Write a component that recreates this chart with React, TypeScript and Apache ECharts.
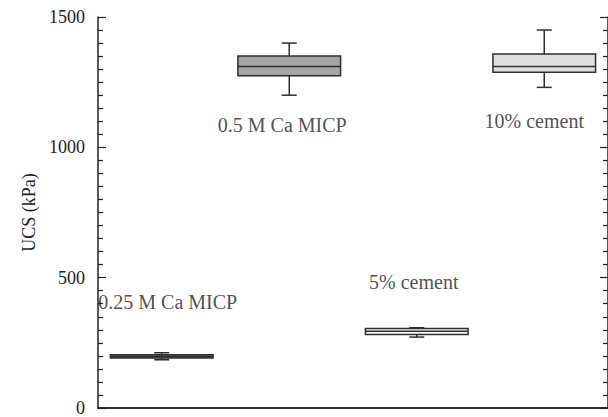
import React, { useEffect, useRef } from "react";
import * as echarts from "echarts";

const categories = ["0.25 M Ca MICP", "0.5 M Ca MICP", "5% cement", "10% cement"];
const minVals = [185, 1200, 272, 1230];
const q1Vals = [192, 1275, 282, 1288];
const medianVals = [198, 1310, 294, 1310];
const q3Vals = [204, 1350, 305, 1358];
const maxVals = [212, 1400, 308, 1450];
const boxColors = ["#707070", "#a6a6a6", "#f8f8f8", "#dedede"];
// annotation anchors (kPa) for category names
const labelAnchors = [405, 1084, 485, 1100];
const labelShift = [6, -7, -3, -10];
const yTicks = [0, 500, 1000, 1500];

const FONT = "Liberation Serif";
const AX = "#222";

export default function App() {
  const ref = useRef<HTMLDivElement>(null);
  useEffect(() => {
    document.body.style.margin = "0";
    if (!ref.current) return;
    const chart = echarts.init(ref.current, undefined, { renderer: "svg" });
    const stroke = { stroke: "#2e2e2e", lineWidth: 1.5 };
    const option: any = {
      animation: false,
      backgroundColor: "#ffffff",
      textStyle: { fontFamily: FONT },
      grid: { left: 98, top: 17, width: 512, height: 393, containLabel: false },
      xAxis: [
        {
          type: "category",
          data: categories,
          boundaryGap: true,
          axisLine: { lineStyle: { color: AX, width: 1.5 } },
          axisTick: { inside: true, length: 8, lineStyle: { color: AX, width: 1.2 } },
          axisLabel: { show: false },
          splitLine: { show: false },
        },
        {
          type: "category",
          data: categories,
          position: "top",
          axisLine: { lineStyle: { color: AX, width: 1.5 } },
          axisTick: { show: false },
          axisLabel: { show: false },
        },
      ],
      yAxis: [
        {
          type: "value",
          min: yTicks[0],
          max: yTicks[yTicks.length - 1],
          interval: 500,
          name: "UCS (kPa)",
          nameLocation: "middle",
          nameGap: 52,
          nameRotate: 90,
          nameTextStyle: { fontFamily: FONT, fontSize: 18, color: "#222" },
          axisLine: { show: true, lineStyle: { color: AX, width: 1.5 } },
          axisTick: { show: true, inside: true, length: 8, lineStyle: { color: AX, width: 1.2 } },
          minorTick: { show: true, splitNumber: 10, length: 5, lineStyle: { color: AX, width: 1.2 } },
          axisLabel: {
            fontFamily: FONT,
            fontSize: 18,
            color: "#222",
            margin: 13,
            formatter: (v: number) => String(v),
          },
          splitLine: { show: false },
        },
        {
          type: "value",
          position: "right",
          min: yTicks[0],
          max: yTicks[yTicks.length - 1],
          interval: 500,
          axisLine: { show: true, lineStyle: { color: AX, width: 1.5 } },
          axisTick: { show: true, inside: true, length: 8, lineStyle: { color: AX, width: 1.2 } },
          minorTick: { show: true, splitNumber: 10, length: 5, lineStyle: { color: AX, width: 1.2 } },
          axisLabel: { show: false },
          splitLine: { show: false },
        },
      ],
      series: [
        {
          type: "custom",
          coordinateSystem: "cartesian2d",
          encode: { x: 0, y: [1, 2, 3, 4, 5] },
          data: categories.map((_, i) => [i, minVals[i], q1Vals[i], medianVals[i], q3Vals[i], maxVals[i]]),
          renderItem: (params: any, api: any) => {
            const i = api.value(0);
            const xc = api.coord([i, 0])[0];
            const band = api.size([1, 0])[0];
            const hw = (band * 0.805) / 2;
            const cap = 7.5;
            const yy = (k: number) => api.coord([i, api.value(k)])[1];
            const yMin = yy(1), yQ1 = yy(2), yMed = yy(3), yQ3 = yy(4), yMax = yy(5);
            const ln = (x1: number, y1: number, x2: number, y2: number) => ({
              type: "line",
              shape: { x1, y1, x2, y2 },
              style: stroke,
            });
            return {
              type: "group",
              children: [
                ln(xc, yMax, xc, yQ3),
                ln(xc, yQ1, xc, yMin),
                ln(xc - cap, yMax, xc + cap, yMax),
                ln(xc - cap, yMin, xc + cap, yMin),
                {
                  type: "rect",
                  shape: { x: xc - hw, y: yQ3, width: hw * 2, height: yQ1 - yQ3 },
                  style: { fill: boxColors[params.dataIndex], stroke: "#2e2e2e", lineWidth: 1.5 },
                },
                ln(xc - hw, yMed, xc + hw, yMed),
              ],
            };
          },
          z: 2,
        },
        {
          type: "scatter",
          symbolSize: 1,
          silent: true,
          itemStyle: { color: "rgba(0,0,0,0)" },
          data: categories.map((_, i) => ({
            value: [i, labelAnchors[i]],
            label: { offset: [labelShift[i], 0] },
          })),
          label: {
            show: true,
            position: "inside",
            formatter: (p: any) => categories[p.dataIndex],
            fontFamily: FONT,
            fontSize: 20,
            color: "#222",
          },
          z: 3,
        },
      ],
    };
    chart.setOption(option);
    return () => chart.dispose();
  }, []);
  return <div ref={ref} style={{ width: 608, height: 417 }} />;
}
